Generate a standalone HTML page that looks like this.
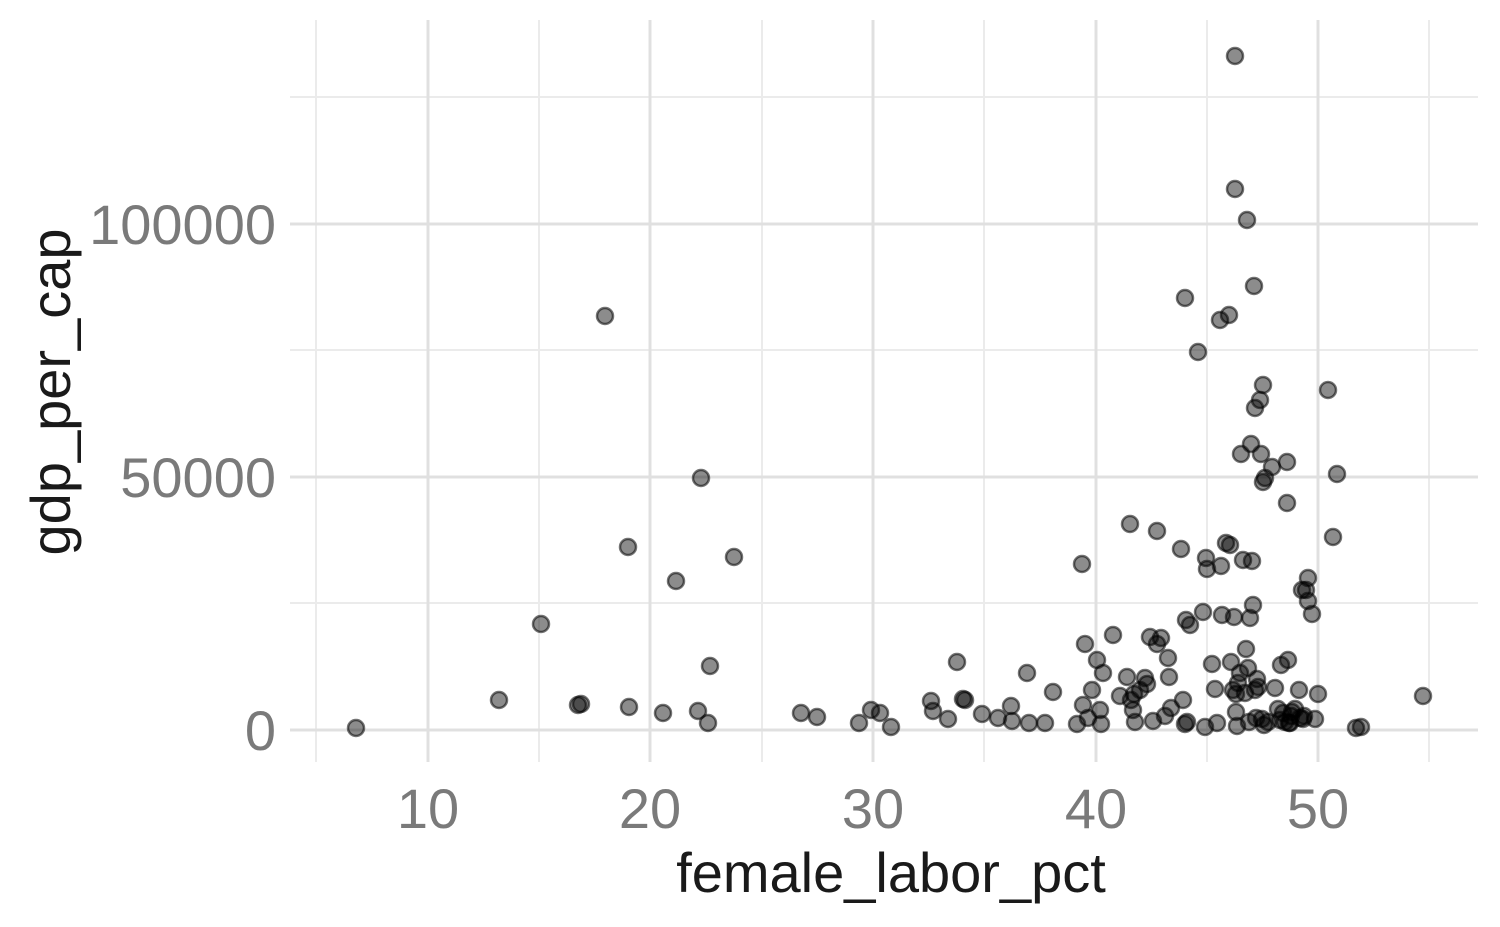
<!DOCTYPE html>
<html><head><meta charset="utf-8"><style>
html,body{margin:0;padding:0;background:#fff;}
svg{display:block;font-family:"Liberation Sans",sans-serif;}
</style></head><body>
<svg width="1500" height="927" viewBox="0 0 1500 927" xmlns="http://www.w3.org/2000/svg">
<rect width="1500" height="927" fill="#fff"/>
<g stroke="#ebebeb" stroke-width="2">
<line x1="316" y1="20" x2="316" y2="762"/><line x1="539" y1="20" x2="539" y2="762"/><line x1="762" y1="20" x2="762" y2="762"/><line x1="984" y1="20" x2="984" y2="762"/><line x1="1207" y1="20" x2="1207" y2="762"/><line x1="1429" y1="20" x2="1429" y2="762"/>
<line x1="290" y1="97" x2="1478" y2="97"/><line x1="290" y1="350" x2="1478" y2="350"/><line x1="290" y1="603" x2="1478" y2="603"/>
</g>
<g stroke="#e0e0e0" stroke-width="3">
<line x1="428" y1="20" x2="428" y2="762"/><line x1="650" y1="20" x2="650" y2="762"/><line x1="873" y1="20" x2="873" y2="762"/><line x1="1096" y1="20" x2="1096" y2="762"/><line x1="1318" y1="20" x2="1318" y2="762"/>
<line x1="290" y1="224" x2="1478" y2="224"/><line x1="290" y1="477" x2="1478" y2="477"/><line x1="290" y1="730" x2="1478" y2="730"/>
</g>
<g fill="#7a7a7a" font-size="56">
<text x="428" y="828" text-anchor="middle">10</text><text x="650" y="828" text-anchor="middle">20</text><text x="873" y="828" text-anchor="middle">30</text><text x="1096" y="828" text-anchor="middle">40</text><text x="1318" y="828" text-anchor="middle">50</text>
<text x="276" y="750" text-anchor="end">0</text><text x="276" y="497" text-anchor="end">50000</text><text x="276" y="244" text-anchor="end">100000</text>
</g>
<text x="891" y="892" text-anchor="middle" font-size="56" fill="#1a1a1a">female_labor_pct</text>
<text transform="translate(70,392) rotate(-90)" text-anchor="middle" font-size="56" fill="#1a1a1a">gdp_per_cap</text>
<g fill="rgba(0,0,0,0.45)" stroke="rgba(0,0,0,0.55)" stroke-width="2.5">
<circle cx="356" cy="728" r="8"/><circle cx="499" cy="700" r="8"/><circle cx="541" cy="624" r="8"/><circle cx="578" cy="705" r="8"/><circle cx="581" cy="704" r="8"/><circle cx="605" cy="316" r="8"/><circle cx="628" cy="547" r="8"/><circle cx="629" cy="707" r="8"/><circle cx="663" cy="713" r="8"/><circle cx="676" cy="581" r="8"/><circle cx="698" cy="711" r="8"/><circle cx="701" cy="478" r="8"/><circle cx="708" cy="723" r="8"/><circle cx="710" cy="666" r="8"/><circle cx="734" cy="557" r="8"/><circle cx="801" cy="713" r="8"/><circle cx="817" cy="717" r="8"/><circle cx="859" cy="723" r="8"/><circle cx="871" cy="710" r="8"/><circle cx="880" cy="713" r="8"/><circle cx="891" cy="727" r="8"/><circle cx="931" cy="701" r="8"/><circle cx="933" cy="711" r="8"/><circle cx="948" cy="719" r="8"/><circle cx="957" cy="662" r="8"/><circle cx="963" cy="699" r="8"/><circle cx="965" cy="700" r="8"/><circle cx="982" cy="714" r="8"/><circle cx="998" cy="718" r="8"/><circle cx="1011" cy="706" r="8"/><circle cx="1012" cy="721" r="8"/><circle cx="1027" cy="673" r="8"/><circle cx="1029" cy="723" r="8"/><circle cx="1045" cy="723" r="8"/><circle cx="1053" cy="692" r="8"/><circle cx="1077" cy="724" r="8"/><circle cx="1082" cy="564" r="8"/><circle cx="1085" cy="644" r="8"/><circle cx="1083" cy="705" r="8"/><circle cx="1088" cy="718" r="8"/><circle cx="1092" cy="690" r="8"/><circle cx="1097" cy="660" r="8"/><circle cx="1100" cy="710" r="8"/><circle cx="1101" cy="724" r="8"/><circle cx="1103" cy="673" r="8"/><circle cx="1113" cy="635" r="8"/><circle cx="1120" cy="696" r="8"/><circle cx="1127" cy="677" r="8"/><circle cx="1130" cy="524" r="8"/><circle cx="1131" cy="700" r="8"/><circle cx="1133" cy="710" r="8"/><circle cx="1135" cy="722" r="8"/><circle cx="1134" cy="694" r="8"/><circle cx="1140" cy="690" r="8"/><circle cx="1145" cy="678" r="8"/><circle cx="1147" cy="684" r="8"/><circle cx="1150" cy="637" r="8"/><circle cx="1153" cy="721" r="8"/><circle cx="1157" cy="531" r="8"/><circle cx="1157" cy="644" r="8"/><circle cx="1161" cy="638" r="8"/><circle cx="1165" cy="716" r="8"/><circle cx="1168" cy="658" r="8"/><circle cx="1169" cy="677" r="8"/><circle cx="1171" cy="708" r="8"/><circle cx="1181" cy="549" r="8"/><circle cx="1183" cy="700" r="8"/><circle cx="1185" cy="724" r="8"/><circle cx="1187" cy="722" r="8"/><circle cx="1185" cy="298" r="8"/><circle cx="1186" cy="620" r="8"/><circle cx="1190" cy="625" r="8"/><circle cx="1198" cy="352" r="8"/><circle cx="1203" cy="612" r="8"/><circle cx="1205" cy="727" r="8"/><circle cx="1206" cy="558" r="8"/><circle cx="1207" cy="569" r="8"/><circle cx="1212" cy="664" r="8"/><circle cx="1215" cy="689" r="8"/><circle cx="1217" cy="723" r="8"/><circle cx="1220" cy="320" r="8"/><circle cx="1221" cy="566" r="8"/><circle cx="1222" cy="615" r="8"/><circle cx="1226" cy="543" r="8"/><circle cx="1229" cy="315" r="8"/><circle cx="1230" cy="545" r="8"/><circle cx="1231" cy="662" r="8"/><circle cx="1233" cy="690" r="8"/><circle cx="1234" cy="617" r="8"/><circle cx="1235" cy="56" r="8"/><circle cx="1235" cy="189" r="8"/><circle cx="1236" cy="694" r="8"/><circle cx="1236" cy="712" r="8"/><circle cx="1237" cy="726" r="8"/><circle cx="1238" cy="683" r="8"/><circle cx="1240" cy="673" r="8"/><circle cx="1241" cy="454" r="8"/><circle cx="1243" cy="560" r="8"/><circle cx="1245" cy="693" r="8"/><circle cx="1246" cy="649" r="8"/><circle cx="1247" cy="220" r="8"/><circle cx="1248" cy="668" r="8"/><circle cx="1249" cy="722" r="8"/><circle cx="1250" cy="618" r="8"/><circle cx="1251" cy="444" r="8"/><circle cx="1252" cy="561" r="8"/><circle cx="1253" cy="605" r="8"/><circle cx="1254" cy="286" r="8"/><circle cx="1255" cy="408" r="8"/><circle cx="1255" cy="690" r="8"/><circle cx="1256" cy="718" r="8"/><circle cx="1257" cy="679" r="8"/><circle cx="1258" cy="687" r="8"/><circle cx="1260" cy="400" r="8"/><circle cx="1261" cy="454" r="8"/><circle cx="1262" cy="719" r="8"/><circle cx="1263" cy="482" r="8"/><circle cx="1263" cy="385" r="8"/><circle cx="1264" cy="725" r="8"/><circle cx="1265" cy="478" r="8"/><circle cx="1268" cy="722" r="8"/><circle cx="1272" cy="467" r="8"/><circle cx="1275" cy="688" r="8"/><circle cx="1278" cy="709" r="8"/><circle cx="1280" cy="720" r="8"/><circle cx="1281" cy="665" r="8"/><circle cx="1283" cy="713" r="8"/><circle cx="1285" cy="722" r="8"/><circle cx="1287" cy="462" r="8"/><circle cx="1287" cy="503" r="8"/><circle cx="1288" cy="660" r="8"/><circle cx="1289" cy="723" r="8"/><circle cx="1290" cy="723" r="8"/><circle cx="1291" cy="716" r="8"/><circle cx="1292" cy="712" r="8"/><circle cx="1295" cy="709" r="8"/><circle cx="1299" cy="690" r="8"/><circle cx="1300" cy="718" r="8"/><circle cx="1302" cy="590" r="8"/><circle cx="1303" cy="719" r="8"/><circle cx="1304" cy="716" r="8"/><circle cx="1306" cy="590" r="8"/><circle cx="1308" cy="578" r="8"/><circle cx="1308" cy="601" r="8"/><circle cx="1312" cy="614" r="8"/><circle cx="1315" cy="719" r="8"/><circle cx="1318" cy="694" r="8"/><circle cx="1328" cy="390" r="8"/><circle cx="1333" cy="537" r="8"/><circle cx="1337" cy="474" r="8"/><circle cx="1356" cy="728" r="8"/><circle cx="1361" cy="727" r="8"/><circle cx="1423" cy="696" r="8"/>
</g>
</svg>
</body></html>
